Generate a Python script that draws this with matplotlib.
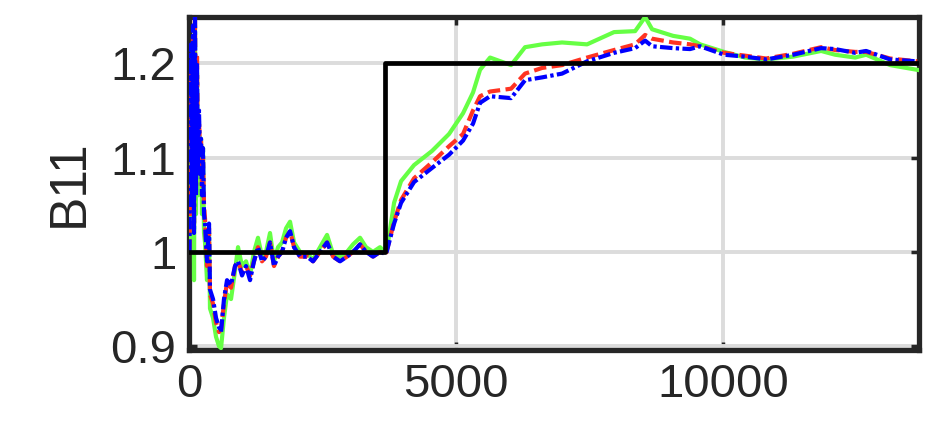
import matplotlib
matplotlib.use("Agg")
import matplotlib.pyplot as plt

# sample index and estimates of B11
X = [10, 37, 56, 75, 94, 112, 131, 150, 169, 187, 206, 225, 243, 262, 281, 300,
     337, 375, 393, 450, 506, 562, 600, 655, 712, 787, 862, 918, 993, 1068, 1143,
     1217, 1292, 1367, 1442, 1517, 1592, 1667, 1742, 1817, 1892, 1967, 2079, 2210,
     2322, 2454, 2585, 2697, 2828, 2959, 3072, 3203, 3315, 3446, 3577, 3671,
     3700, 3840, 3971, 4214, 4551, 4870, 5132, 5319, 5450, 5638, 6031, 6293, 6612,
     6986, 7454, 7960, 8354, 8541, 8672, 9065, 9383, 9571, 10020, 10414, 10807,
     11313, 11837, 12100, 12474, 12680, 13130, 13636]

BLUE = [1.000, 1.22, 1.05, 1.24, 1.02, 1.26, 1.06, 1.20, 1.08, 1.15, 1.10, 1.12, 1.06,
        1.11, 1.04, 1.03, 0.99, 1.03, 0.96, 0.95, 0.93, 0.92, 0.915, 0.95, 0.97, 0.965,
        0.985, 0.99, 0.975, 0.985, 0.97, 0.99, 1.005, 0.99, 0.995, 1.01, 0.985, 0.995,
        1.00, 1.015, 1.022, 1.005, 0.995, 0.995, 0.99, 1.00, 1.01, 0.995, 0.99, 0.995,
        1.00, 1.008, 1.00, 0.995, 1.00, 0.998,
        1.000, 1.030, 1.052, 1.074, 1.089, 1.103, 1.118, 1.136, 1.158, 1.165, 1.163,
        1.182, 1.185, 1.189, 1.202, 1.211, 1.216, 1.224, 1.218, 1.216, 1.215, 1.218,
        1.209, 1.207, 1.204, 1.209, 1.216, 1.215, 1.211, 1.213, 1.204, 1.202]

RED = [1.000, 1.20, 1.06, 1.23, 1.03, 1.25, 1.07, 1.21, 1.09, 1.14, 1.11, 1.12, 1.07,
       1.10, 1.05, 1.035, 0.985, 1.025, 0.955, 0.945, 0.925, 0.915, 0.918, 0.945, 0.968,
       0.962, 0.985, 0.99, 0.978, 0.985, 0.975, 0.99, 1.005, 0.99, 0.995, 1.01, 0.985,
       0.995, 1.00, 1.015, 1.022, 1.005, 0.995, 0.995, 0.99, 1.00, 1.01, 0.995, 0.99,
       0.995, 1.00, 1.008, 1.00, 0.995, 1.00, 0.998,
       1.000, 1.032, 1.055, 1.078, 1.095, 1.112, 1.125, 1.150, 1.165, 1.170, 1.173,
       1.189, 1.195, 1.198, 1.206, 1.214, 1.220, 1.230, 1.226, 1.222, 1.220, 1.218,
       1.211, 1.208, 1.205, 1.210, 1.217, 1.214, 1.212, 1.212, 1.205, 1.202]

GREEN = [1.000, 1.18, 1.03, 1.22, 0.97, 1.24, 1.04, 1.19, 1.06, 1.13, 1.09, 1.12, 1.04,
         1.11, 1.02, 1.01, 0.97, 1.02, 0.94, 0.93, 0.91, 0.90, 0.898, 0.93, 0.955, 0.95,
         0.98, 1.005, 0.985, 0.99, 0.975, 1.00, 1.015, 0.995, 1.00, 1.02, 0.99, 1.005,
         1.01, 1.025, 1.032, 1.01, 1.00, 0.998, 0.992, 1.005, 1.018, 0.998, 0.995, 1.00,
         1.008, 1.015, 1.005, 1.00, 1.005, 1.000,
         1.000, 1.052, 1.075, 1.092, 1.107, 1.125, 1.147, 1.169, 1.193, 1.206, 1.198,
         1.217, 1.220, 1.222, 1.220, 1.233, 1.234, 1.249, 1.236, 1.229, 1.226, 1.220,
         1.212, 1.206, 1.204, 1.207, 1.213, 1.209, 1.206, 1.209, 1.198, 1.193]

# true parameter: step from 1.0 to 1.2
TRUE_X = [0, 3671, 3671, 13670]
TRUE_Y = [1.0, 1.0, 1.2, 1.2]

XTICKS = [0, 5000, 10000]
YTICKS = [0.9, 1.0, 1.1, 1.2]
YTICKLABELS = ["0.9", "1", "1.1", "1.2"]

plt.rcParams['font.family'] = ['Liberation Sans', 'DejaVu Sans']

fig = plt.figure(figsize=(9.48, 4.4), dpi=100)
ax = fig.add_axes([189 / 948, 90 / 440, 730 / 948, 333 / 440])

ax.plot(X, GREEN, "-", color="#66ff44", lw=3.0, zorder=3)
ax.plot(X, RED, color="#ff3322", lw=3.0, ls=(0, (3, 1.3)), zorder=4)
ax.plot(X, BLUE, color="#0000ff", lw=3.0, ls=(0, (3, 0.8, 0.8, 0.8)), zorder=5)
ax.plot(TRUE_X, TRUE_Y, "-", color="black", lw=3.4, zorder=6)

ax.set_xlim(0, 13670)
ax.set_ylim(0.896, 1.249)
ax.set_xticks(XTICKS)
ax.set_yticks(YTICKS)
ax.set_yticklabels(YTICKLABELS)
ax.grid(True, color="#dcdcdc", lw=2.8)
ax.set_axisbelow(True)

for s in ax.spines.values():
    s.set_linewidth(3.8)
    s.set_color("#262626")
ax.tick_params(direction="in", length=6, width=2.5, color="#262626",
               top=True, right=True, labelsize=34, labelcolor="#262626", pad=9)
ax.set_ylabel("B11", fontsize=37, color="#262626", labelpad=12)

plt.savefig("out.png", dpi=100)
plt.close(fig)
